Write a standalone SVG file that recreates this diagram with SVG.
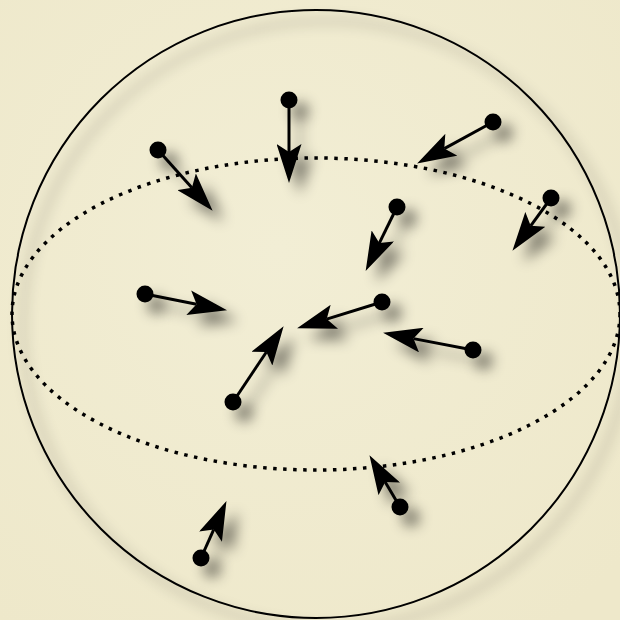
<svg xmlns="http://www.w3.org/2000/svg" width="620" height="620" viewBox="0 0 620 620">
<defs>
<radialGradient id="bg" cx="0.45" cy="0.4" r="0.75">
<stop offset="0" stop-color="#f2eed5"/>
<stop offset="1" stop-color="#eee8ca"/>
</radialGradient>
<filter id="sh" x="-30%" y="-30%" width="160%" height="160%">
<feGaussianBlur in="SourceAlpha" stdDeviation="7"/>
<feOffset dx="11" dy="11" result="b"/>
<feComponentTransfer><feFuncA type="linear" slope="0.5"/></feComponentTransfer>
<feMerge><feMergeNode/><feMergeNode in="SourceGraphic"/></feMerge>
</filter>
<marker id="ah" viewBox="0 -12.5 39 25" refX="8" refY="0" markerWidth="39" markerHeight="25" markerUnits="userSpaceOnUse" orient="auto">
<path d="M39,0 L0,-12.5 L8,0 L0,12.5 Z" fill="#000"/>
</marker>
</defs>
<style>
.ln{stroke:#000;stroke-width:3;fill:none;marker-end:url(#ah)}
.dot{fill:#000}
.sphere{fill:none;stroke:#000;stroke-width:2}
.eq{fill:none;stroke:#000;stroke-width:3.5;stroke-dasharray:3.5 6.5}
</style>
<rect width="620" height="620" fill="url(#bg)"/>
<g id="sphere" filter="url(#sh)">
<circle class="sphere" cx="316" cy="314" r="304"/>
</g>
<g id="equator">
<ellipse class="eq" cx="316" cy="314" rx="304" ry="156"/>
</g>
<g id="connectors" filter="url(#sh)">
<line class="ln" x1="158" y1="150" x2="191.9" y2="187.7"/>
<line class="ln" x1="289" y1="100" x2="289" y2="152"/>
<line class="ln" x1="493" y1="122" x2="444.3" y2="148.6"/>
<line class="ln" x1="551" y1="198" x2="530.7" y2="225.8"/>
<line class="ln" x1="397" y1="207" x2="379.3" y2="243.1"/>
<line class="ln" x1="145" y1="294" x2="196.6" y2="304.2"/>
<line class="ln" x1="382" y1="302" x2="326.7" y2="319.1"/>
<line class="ln" x1="473" y1="350" x2="413.5" y2="338.6"/>
<line class="ln" x1="233" y1="402" x2="266.4" y2="352"/>
<line class="ln" x1="400" y1="507" x2="385.2" y2="481.9"/>
<line class="ln" x1="201" y1="558" x2="213.8" y2="529.4"/>
</g>
<g filter="url(#sh)">
<g id="p1"><circle class="dot" cx="158" cy="150" r="8.5"/></g>
<g id="p2"><circle class="dot" cx="289" cy="100" r="8.5"/></g>
<g id="p3"><circle class="dot" cx="493" cy="122" r="8.5"/></g>
<g id="p4"><circle class="dot" cx="551" cy="198" r="8.5"/></g>
<g id="p5"><circle class="dot" cx="397" cy="207" r="8.5"/></g>
<g id="p6"><circle class="dot" cx="145" cy="294" r="8.5"/></g>
<g id="p7"><circle class="dot" cx="382" cy="302" r="8.5"/></g>
<g id="p8"><circle class="dot" cx="473" cy="350" r="8.5"/></g>
<g id="p9"><circle class="dot" cx="233" cy="402" r="8.5"/></g>
<g id="p10"><circle class="dot" cx="400" cy="507" r="8.5"/></g>
<g id="p11"><circle class="dot" cx="201" cy="558" r="8.5"/></g>
</g>
</svg>
